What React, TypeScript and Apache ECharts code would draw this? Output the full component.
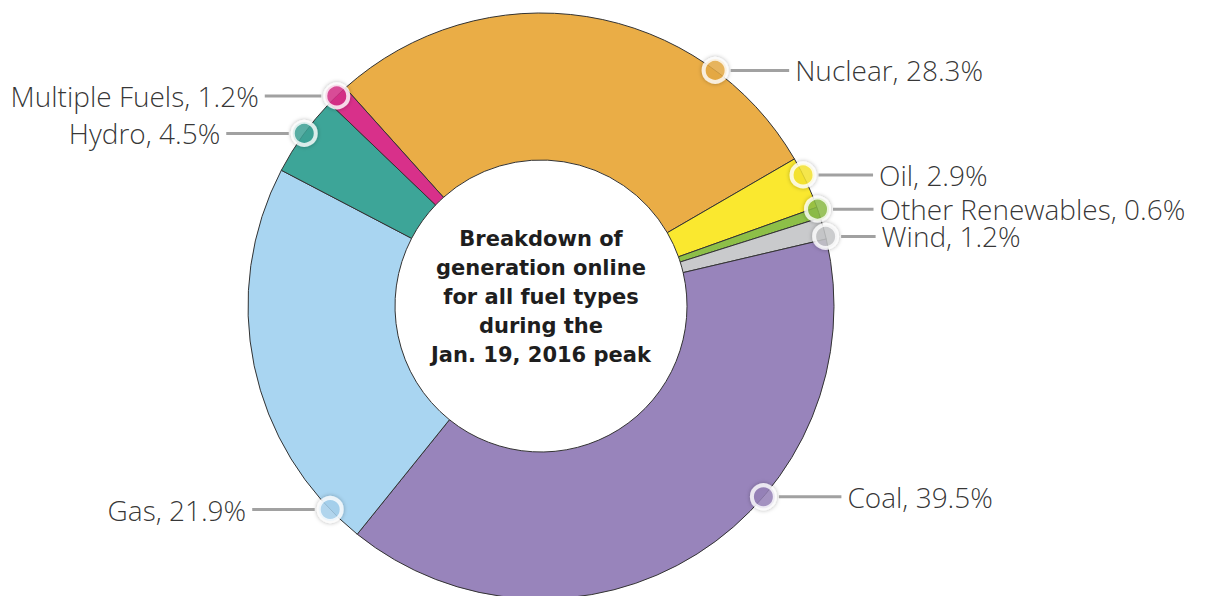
import React, { useEffect, useRef } from "react";
import * as echarts from "echarts";

// ---- data ----
const categories = [
  "Nuclear",
  "Oil",
  "Other Renewables",
  "Wind",
  "Coal",
  "Gas",
  "Hydro",
  "Multiple Fuels",
];
const shares = [28.3, 2.9, 0.6, 1.2, 39.5, 21.9, 4.5, 1.2];
const centerTitle = [
  "Breakdown of",
  "generation online",
  "for all fuel types",
  "during the",
  "Jan. 19, 2016 peak",
];

// ---- styles / layout ----
const colors = [
  "#EAAD46",
  "#FAE82F",
  "#8DBF48",
  "#C9CACC",
  "#9884BB",
  "#A9D5F1",
  "#3DA598",
  "#D8308A",
];
// where on each slice's outer rim the marker sits (fraction of the slice's span)
const markerFrac = [0.77, 0.34, 0.18, 0.88, 0.379, 0.091, 0.525, 0.47];
const labelSide = ["right", "right", "right", "right", "right", "left", "left", "left"];
// distance from marker centre to text start (px)
const labelGap = [78, 74, 60, 54, 82, 82, 82, 76];
const START = -41.9; // degrees clockwise from 12 o'clock where the first slice begins
const CX = 541;
const CY = 306;
const R_OUT = 293;
const R_IN = 146;
const SYMBOL = 23;

export default function App() {
  const ref = useRef<HTMLDivElement>(null);

  useEffect(() => {
    if (!ref.current) return;
    const chart = echarts.init(ref.current, undefined, { renderer: "svg" });

    const total = shares.reduce((a, b) => a + b, 0);
    let acc = START;
    const markerData = shares.map((v, i) => {
      const span = (v / total) * 360;
      let ang = acc + markerFrac[i] * span;
      acc += span;
      ang = ((ang % 360) + 360) % 360;
      const side = labelSide[i];
      const lineW = labelGap[i] - SYMBOL / 2 - 2 - 6;
      const txt = `${categories[i]}, ${shares[i].toFixed(1)}%`;
      return {
        value: [1, ang],
        itemStyle: { color: colors[i] },
        label: {
          show: true,
          position: side,
          distance: 2,
          formatter: side === "right" ? `{l|}{t|${txt}}` : `{t|${txt}}{l|}`,
          rich: {
            l: {
              width: lineW,
              height: 3,
              backgroundColor: "#8a8a8a",
            },
            t: {
              fontFamily: "'Open Sans', sans-serif",
              fontWeight: 300,
              fontSize: 28,
              lineHeight: 24,
              color: "#000000",
              padding: side === "right" ? [0, 0, 0, 6] : [0, 6, 0, 0],
            },
          },
        },
      };
    });

    chart.setOption({
      animation: false,
      backgroundColor: "#ffffff",
      polar: { center: [CX, CY], radius: R_OUT },
      angleAxis: {
        type: "value",
        min: 0,
        max: 360,
        startAngle: 90,
        clockwise: true,
        show: false,
      },
      radiusAxis: { type: "value", min: 0, max: 1, show: false },
      series: [
        {
          type: "pie",
          center: [CX, CY],
          radius: [R_IN, R_OUT],
          startAngle: 90 - START,
          clockwise: true,
          label: { show: false },
          labelLine: { show: false },
          silent: true,
          itemStyle: { borderColor: "#333333", borderWidth: 1 },
          data: categories.map((c, i) => ({
            name: c,
            value: shares[i],
            itemStyle: { color: colors[i] },
          })),
          z: 1,
        },
        {
          type: "scatter",
          coordinateSystem: "polar",
          symbol: "circle",
          symbolSize: SYMBOL,
          itemStyle: {
            borderColor: "#ffffff",
            borderWidth: 4,
            shadowBlur: 4,
            shadowColor: "rgba(0,0,0,0.35)",
          },
          data: markerData,
          z: 5,
        },
      ],
      graphic: [
        {
          type: "text",
          x: CX,
          y: 297,
          z: 10,
          style: {
            text: centerTitle.join("\n"),
            align: "center",
            verticalAlign: "middle",
            fontFamily: "'DejaVu Sans', sans-serif",
            fontWeight: "bold",
            fontSize: 21,
            lineHeight: 29,
            fill: "#1e1e1e",
          },
        },
      ],
    });

    return () => chart.dispose();
  }, []);

  return (
    <div
      ref={ref}
      style={{ position: "fixed", left: 0, top: 0, width: 1206, height: 596 }}
    />
  );
}
